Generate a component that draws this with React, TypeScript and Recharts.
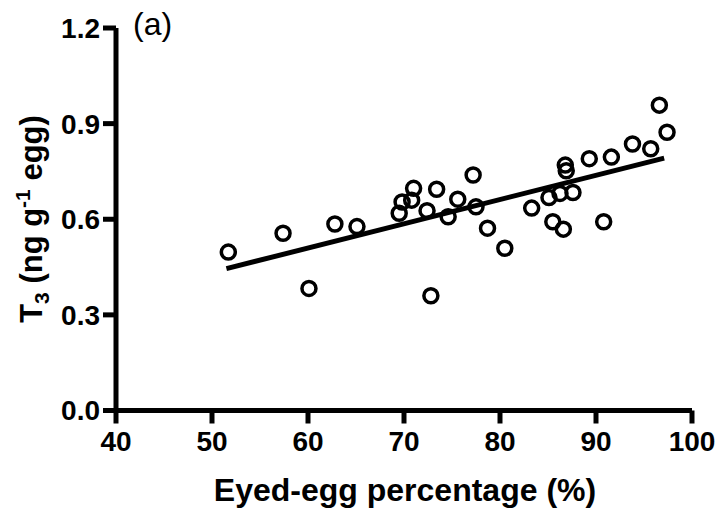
import React from 'react';
import { ScatterChart, Scatter, XAxis, YAxis, ReferenceLine } from 'recharts';

const eyedEggPct = [51.7, 57.4, 60.1, 62.8, 65.1, 69.5, 69.8, 70.8, 71.0, 72.4, 72.8, 73.4, 74.6, 75.6, 77.2, 77.5, 78.7, 80.5, 83.3, 85.1, 85.5, 86.25, 86.6, 86.8, 86.9, 87.6, 89.3, 90.8, 91.6, 93.8, 95.7, 96.6, 97.4];
const t3Values = [0.497, 0.556, 0.383, 0.585, 0.577, 0.619, 0.654, 0.660, 0.697, 0.627, 0.360, 0.694, 0.608, 0.663, 0.739, 0.639, 0.572, 0.509, 0.635, 0.668, 0.592, 0.681, 0.569, 0.770, 0.752, 0.684, 0.790, 0.592, 0.795, 0.836, 0.821, 0.958, 0.873];
const fitLine = [{ x: 51.5, y: 0.445 }, { x: 97.1, y: 0.792 }];
const xTicks = [40, 50, 60, 70, 80, 90, 100];
const yTicks = [0, 0.3, 0.6, 0.9, 1.2];

const points = eyedEggPct.map((x, i) => ({ x, y: t3Values[i] }));

const FONT = "'Liberation Sans', Arial, Helvetica, sans-serif";

const RingShape = (props: any) => {
  const { cx, cy } = props;
  if (cx == null || cy == null) return null;
  return <circle cx={cx} cy={cy} r={7} fill="none" stroke="#000" strokeWidth={3.5} />;
};

export default function App() {
  return (
    <div style={{ position: 'absolute', left: 0, top: 0, width: 718, height: 510, background: '#fff' }}>
      <ScatterChart width={718} height={510} margin={{ top: 28, right: 26, left: 0, bottom: 39.5 }}>
        <XAxis
          type="number"
          dataKey="x"
          domain={[40, 100]}
          ticks={xTicks}
          height={60}
          tickSize={13}
          tickMargin={8}
          axisLine={{ stroke: '#000', strokeWidth: 5 }}
          tickLine={{ stroke: '#000', strokeWidth: 5 }}
          tick={{ fill: '#000', fontSize: 28, fontWeight: 700, fontFamily: FONT }}
          allowDataOverflow
        />
        <YAxis
          type="number"
          dataKey="y"
          domain={[0, 1.2]}
          ticks={yTicks}
          width={116}
          tickSize={13}
          tickMargin={3}
          tickFormatter={(v: number) => v.toFixed(1)}
          axisLine={{ stroke: '#000', strokeWidth: 5 }}
          tickLine={{ stroke: '#000', strokeWidth: 5 }}
          tick={{ fill: '#000', fontSize: 28, fontWeight: 700, fontFamily: FONT }}
          allowDataOverflow
        />
        <ReferenceLine segment={fitLine} stroke="#000" strokeWidth={5} ifOverflow="visible" />
        <Scatter data={points} shape={RingShape} isAnimationActive={false} />
        <text x={405} y={501} textAnchor="middle" fontFamily={FONT} fontWeight={700} fontSize={32} fill="#000">
          Eyed-egg percentage (%)
        </text>
        <text transform="translate(42,219) rotate(-90)" textAnchor="middle" fontFamily={FONT} fontWeight={700} fontSize={31} fill="#000">
          T<tspan fontSize={21} dy={7}>3</tspan>
          <tspan dy={-7}> (ng g</tspan>
          <tspan fontSize={21} dy={-12}>-1</tspan>
          <tspan dy={12}> egg)</tspan>
        </text>
        <text x={133} y={35} fontFamily={FONT} fontSize={32} fill="#000">
          (a)
        </text>
      </ScatterChart>
    </div>
  );
}
